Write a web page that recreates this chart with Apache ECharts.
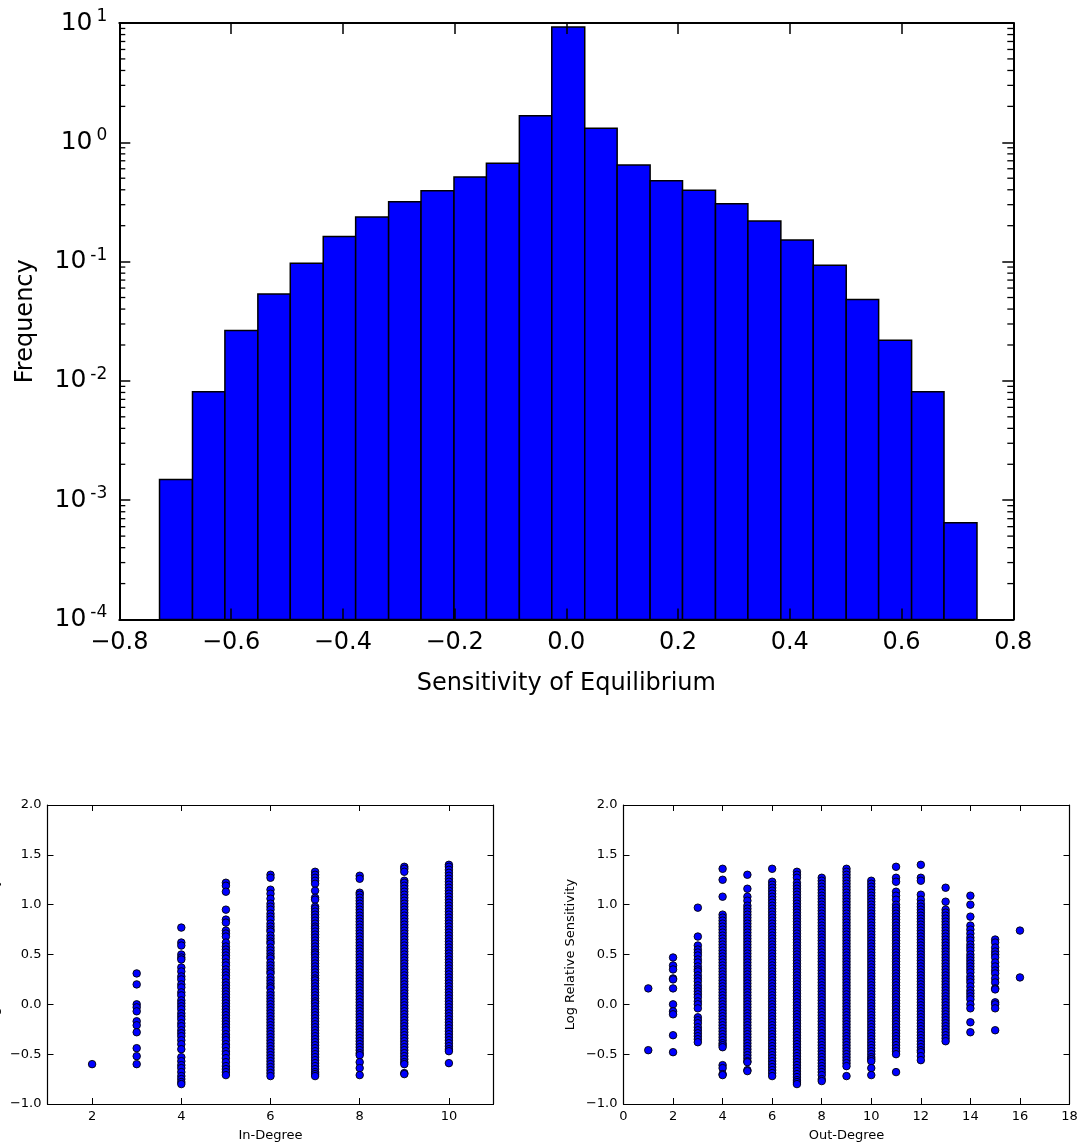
<!DOCTYPE html>
<html>
<head>
<meta charset="utf-8">
<script src="https://cdn.jsdelivr.net/npm/echarts@6/dist/echarts.min.js"></script>
<style>html,body{margin:0;padding:0;background:#fff}#c{width:1080px;height:1146px}</style>
</head>
<body>
<div id="c"></div>
<script>
// ---------- Histogram data ----------
const binEdges = [-0.728, -0.669, -0.611, -0.552, -0.494, -0.435, -0.377, -0.318, -0.260, -0.201, -0.143, -0.084, -0.026,
  0.033, 0.091, 0.150, 0.208, 0.267, 0.325, 0.384, 0.442, 0.501, 0.559, 0.618, 0.676, 0.735];
const frequency = [0.00149, 0.0081, 0.0264, 0.0536, 0.0968, 0.162, 0.236, 0.318, 0.393, 0.511, 0.667, 1.67, 9.25,
  1.31, 0.646, 0.477, 0.396, 0.306, 0.219, 0.152, 0.093, 0.0481, 0.0219, 0.0081, 0.000646];
const histXTicks = [-0.8, -0.6, -0.4, -0.2, 0.0, 0.2, 0.4, 0.6, 0.8];
const histYRange = [1e-4, 10];

// ---------- In-degree scatter ----------
const inDegrees = [2, 3, 4, 5, 6, 7, 8, 9, 10];
const in2 = [-0.60];
const in3 = [0.31, 0.20, 0.00, -0.03, -0.07, -0.17, -0.21, -0.28, -0.44, -0.52, -0.60];
const in4 = [0.77, 0.62, 0.59, 0.50, 0.47, 0.45, 0.37, 0.33, 0.28, 0.25, 0.20, 0.17, 0.12, 0.09, 0.04, 0.01, -0.02, -0.05, -0.09,
  -0.12, -0.15, -0.19, -0.22, -0.26, -0.29, -0.32, -0.36, -0.40, -0.45, -0.53, -0.57, -0.61, -0.64, -0.68, -0.72, -0.75, -0.78, -0.80];
const in5 = [1.22, 1.19, 1.13, 0.95, 0.85, 0.82, 0.74, 0.71, 0.68, 0.62, 0.58, 0.55, 0.52, 0.49, 0.46, 0.42, 0.39, 0.35, 0.32,
  0.29, 0.26, 0.22, 0.19, 0.16, 0.13, 0.10, 0.07, 0.04, 0.01, -0.02, -0.05, -0.08, -0.11, -0.14, -0.17, -0.20, -0.23, -0.26,
  -0.30, -0.33, -0.36, -0.40, -0.43, -0.47, -0.50, -0.54, -0.58, -0.62, -0.65, -0.68, -0.71];
const in6 = [1.30, 1.27, 1.15, 1.11, 1.06, 1.01, 0.98, 0.95, 0.91, 0.88, 0.85, 0.81, 0.78, 0.75, 0.73, 0.69, 0.66, 0.63, 0.61,
  0.57, 0.54, 0.51, 0.48, 0.46, 0.42, 0.39, 0.36, 0.33, 0.31, 0.27, 0.24, 0.21, 0.18, 0.16, 0.12, 0.09, 0.06, 0.03, 0.00,
  -0.03, -0.06, -0.09, -0.12, -0.15, -0.18, -0.21, -0.24, -0.27, -0.30, -0.33, -0.36, -0.39, -0.42, -0.45, -0.48, -0.51,
  -0.54, -0.57, -0.60, -0.63, -0.66, -0.69, -0.72];
const in7 = [1.33, 1.30, 1.27, 1.24, 1.21, 1.14, 1.07, 1.05, 0.98, 0.96, 0.93, 0.90, 0.87, 0.84, 0.81, 0.78, 0.76, 0.73, 0.70,
  0.67, 0.64, 0.61, 0.58, 0.55, 0.52, 0.50, 0.47, 0.44, 0.41, 0.38, 0.35, 0.32, 0.29, 0.26, 0.24, 0.21, 0.18, 0.15, 0.12,
  0.09, 0.06, 0.03, 0.01, -0.02, -0.05, -0.08, -0.11, -0.14, -0.17, -0.20, -0.23, -0.26, -0.29, -0.32, -0.35, -0.38, -0.41,
  -0.44, -0.47, -0.50, -0.53, -0.56, -0.59, -0.62, -0.65, -0.68, -0.70, -0.72];
const in8 = [1.29, 1.26, 1.12, 1.10, 1.07, 1.04, 1.01, 0.98, 0.95, 0.92, 0.89, 0.86, 0.83, 0.80, 0.77, 0.74, 0.71, 0.68, 0.65,
  0.62, 0.59, 0.56, 0.53, 0.50, 0.47, 0.44, 0.41, 0.38, 0.35, 0.32, 0.29, 0.26, 0.23, 0.20, 0.17, 0.14, 0.11, 0.08, 0.05,
  0.02, -0.01, -0.04, -0.07, -0.10, -0.13, -0.16, -0.19, -0.22, -0.25, -0.28, -0.31, -0.34, -0.37, -0.40, -0.43, -0.46,
  -0.49, -0.51, -0.58, -0.64, -0.71];
const in9 = [1.38, 1.36, 1.33, 1.24, 1.22, 1.19, 1.16, 1.13, 1.10, 1.07, 1.04, 1.01, 0.98, 0.95, 0.92, 0.89, 0.86, 0.83, 0.80,
  0.77, 0.74, 0.71, 0.68, 0.65, 0.62, 0.59, 0.56, 0.53, 0.50, 0.47, 0.44, 0.41, 0.38, 0.35, 0.32, 0.29, 0.26, 0.23, 0.20,
  0.17, 0.14, 0.11, 0.08, 0.05, 0.02, -0.01, -0.04, -0.07, -0.10, -0.13, -0.16, -0.19, -0.22, -0.25, -0.28, -0.31, -0.34,
  -0.37, -0.40, -0.43, -0.46, -0.49, -0.52, -0.55, -0.58, -0.60, -0.69, -0.70];
const in10 = [1.40, 1.38, 1.35, 1.32, 1.29, 1.26, 1.23, 1.20, 1.17, 1.14, 1.11, 1.08, 1.05, 1.02, 0.99, 0.96, 0.93, 0.90, 0.87,
  0.84, 0.81, 0.78, 0.75, 0.72, 0.69, 0.66, 0.63, 0.60, 0.57, 0.54, 0.51, 0.48, 0.45, 0.42, 0.39, 0.36, 0.33, 0.30, 0.27,
  0.24, 0.21, 0.18, 0.15, 0.12, 0.09, 0.06, 0.03, 0.00, -0.03, -0.06, -0.09, -0.12, -0.15, -0.18, -0.21, -0.24, -0.27,
  -0.30, -0.33, -0.36, -0.39, -0.42, -0.45, -0.47, -0.59];
const inValues = [in2, in3, in4, in5, in6, in7, in8, in9, in10];
const inXTicks = [2, 4, 6, 8, 10];

// ---------- Out-degree scatter ----------
const outDegrees = [1, 2, 3, 4, 5, 6, 7, 8, 9, 10, 11, 12, 13, 14, 15, 16];
const out1 = [0.16, -0.46];
const out2 = [0.47, 0.39, 0.35, 0.26, 0.25, 0.16, 0.00, -0.07, -0.10, -0.31, -0.48];
const out3 = [0.97, 0.68, 0.59, 0.55, 0.52, 0.49, 0.45, 0.42, 0.38, 0.35, 0.33, 0.29, 0.26, 0.23, 0.19, 0.16, 0.13, 0.10,
  0.07, 0.03, 0.00, -0.04, -0.13, -0.16, -0.19, -0.23, -0.26, -0.29, -0.32, -0.35, -0.38];
const out4 = [1.36, 1.25, 1.08, 0.90, 0.87, 0.84, 0.81, 0.78, 0.75, 0.72, 0.69, 0.66, 0.63, 0.60, 0.57, 0.54, 0.51, 0.48,
  0.45, 0.42, 0.39, 0.36, 0.33, 0.30, 0.27, 0.24, 0.21, 0.18, 0.15, 0.12, 0.09, 0.06, 0.03, 0.00, -0.03, -0.06, -0.09,
  -0.12, -0.15, -0.18, -0.21, -0.24, -0.27, -0.30, -0.33, -0.36, -0.39, -0.41, -0.43, -0.61, -0.64, -0.70, -0.71];
const out5 = [1.30, 1.16, 1.08, 1.04, 0.99, 0.96, 0.93, 0.90, 0.87, 0.84, 0.81, 0.78, 0.75, 0.72, 0.69, 0.66, 0.63, 0.60,
  0.57, 0.54, 0.51, 0.48, 0.45, 0.42, 0.39, 0.36, 0.33, 0.30, 0.27, 0.24, 0.21, 0.18, 0.15, 0.12, 0.09, 0.06, 0.03, 0.00,
  -0.03, -0.06, -0.09, -0.12, -0.15, -0.18, -0.21, -0.24, -0.27, -0.30, -0.33, -0.36, -0.39, -0.42, -0.45, -0.48, -0.51,
  -0.54, -0.57, -0.58, -0.66, -0.67];
const out6 = [1.36, 1.23, 1.20, 1.17, 1.14, 1.11, 1.08, 1.05, 1.02, 0.99, 0.96, 0.93, 0.90, 0.87, 0.84, 0.81, 0.78, 0.75,
  0.72, 0.69, 0.66, 0.63, 0.60, 0.57, 0.54, 0.51, 0.48, 0.45, 0.42, 0.39, 0.36, 0.33, 0.30, 0.27, 0.24, 0.21, 0.18, 0.15,
  0.12, 0.09, 0.06, 0.03, 0.00, -0.03, -0.06, -0.09, -0.12, -0.15, -0.18, -0.21, -0.24, -0.27, -0.30, -0.33, -0.36, -0.39,
  -0.42, -0.45, -0.48, -0.51, -0.54, -0.57, -0.60, -0.63, -0.66, -0.69, -0.72];
const out7 = [1.33, 1.30, 1.27, 1.22, 1.19, 1.16, 1.13, 1.10, 1.07, 1.04, 1.01, 0.98, 0.95, 0.92, 0.89, 0.86, 0.83, 0.80,
  0.77, 0.74, 0.71, 0.68, 0.65, 0.62, 0.59, 0.56, 0.53, 0.50, 0.47, 0.44, 0.41, 0.38, 0.35, 0.32, 0.29, 0.26, 0.23, 0.20,
  0.17, 0.14, 0.11, 0.08, 0.05, 0.02, -0.01, -0.04, -0.07, -0.10, -0.13, -0.16, -0.19, -0.22, -0.25, -0.28, -0.31, -0.34,
  -0.37, -0.40, -0.43, -0.46, -0.49, -0.52, -0.55, -0.58, -0.61, -0.64, -0.67, -0.70, -0.73, -0.76, -0.78, -0.80];
const out8 = [1.27, 1.24, 1.21, 1.18, 1.15, 1.12, 1.09, 1.06, 1.03, 1.00, 0.97, 0.94, 0.91, 0.88, 0.85, 0.82, 0.79, 0.76,
  0.73, 0.70, 0.67, 0.64, 0.61, 0.58, 0.55, 0.52, 0.49, 0.46, 0.43, 0.40, 0.37, 0.34, 0.31, 0.28, 0.25, 0.22, 0.19, 0.16,
  0.13, 0.10, 0.07, 0.04, 0.01, -0.02, -0.05, -0.08, -0.11, -0.14, -0.17, -0.20, -0.23, -0.26, -0.29, -0.32, -0.35, -0.38,
  -0.41, -0.44, -0.47, -0.50, -0.53, -0.56, -0.59, -0.62, -0.65, -0.68, -0.71, -0.75, -0.77];
const out9 = [1.36, 1.33, 1.30, 1.27, 1.24, 1.21, 1.18, 1.15, 1.12, 1.09, 1.06, 1.03, 1.00, 0.97, 0.94, 0.91, 0.88, 0.85,
  0.82, 0.79, 0.76, 0.73, 0.70, 0.67, 0.64, 0.61, 0.58, 0.55, 0.52, 0.49, 0.46, 0.43, 0.40, 0.37, 0.34, 0.31, 0.28, 0.25,
  0.22, 0.19, 0.16, 0.13, 0.10, 0.07, 0.04, 0.01, -0.02, -0.05, -0.08, -0.11, -0.14, -0.17, -0.20, -0.23, -0.26, -0.29,
  -0.32, -0.35, -0.38, -0.41, -0.44, -0.47, -0.50, -0.53, -0.56, -0.59, -0.62, -0.72];
const out10 = [1.24, 1.21, 1.18, 1.15, 1.12, 1.09, 1.06, 1.03, 1.00, 0.97, 0.94, 0.91, 0.88, 0.85, 0.82, 0.79, 0.76, 0.73,
  0.70, 0.67, 0.64, 0.61, 0.58, 0.55, 0.52, 0.49, 0.46, 0.43, 0.40, 0.37, 0.34, 0.31, 0.28, 0.25, 0.22, 0.19, 0.16, 0.13,
  0.10, 0.07, 0.04, 0.01, -0.02, -0.05, -0.08, -0.11, -0.14, -0.17, -0.20, -0.23, -0.26, -0.29, -0.32, -0.35, -0.38, -0.41,
  -0.44, -0.47, -0.50, -0.53, -0.55, -0.57, -0.64, -0.71];
const out11 = [1.38, 1.27, 1.23, 1.13, 1.09, 1.05, 1.00, 0.97, 0.94, 0.91, 0.88, 0.85, 0.82, 0.79, 0.76, 0.73, 0.70, 0.67,
  0.64, 0.61, 0.58, 0.55, 0.52, 0.49, 0.46, 0.43, 0.40, 0.37, 0.34, 0.31, 0.28, 0.25, 0.22, 0.19, 0.16, 0.13, 0.10, 0.07,
  0.04, 0.01, -0.02, -0.05, -0.08, -0.11, -0.14, -0.17, -0.20, -0.23, -0.26, -0.29, -0.32, -0.35, -0.38, -0.41, -0.44,
  -0.47, -0.50, -0.68];
const out12 = [1.40, 1.27, 1.24, 1.10, 1.05, 1.01, 0.98, 0.95, 0.92, 0.89, 0.86, 0.83, 0.80, 0.77, 0.74, 0.71, 0.68, 0.65,
  0.62, 0.59, 0.56, 0.53, 0.50, 0.47, 0.44, 0.41, 0.38, 0.35, 0.32, 0.29, 0.26, 0.23, 0.20, 0.17, 0.14, 0.11, 0.08, 0.05,
  0.02, -0.01, -0.04, -0.07, -0.10, -0.13, -0.16, -0.19, -0.22, -0.25, -0.28, -0.31, -0.34, -0.37, -0.40, -0.43, -0.46,
  -0.48, -0.52, -0.56];
const out13 = [1.17, 1.03, 0.95, 0.92, 0.89, 0.86, 0.83, 0.80, 0.77, 0.74, 0.71, 0.68, 0.65, 0.62, 0.59, 0.56, 0.53, 0.50,
  0.47, 0.44, 0.41, 0.38, 0.35, 0.32, 0.29, 0.26, 0.23, 0.20, 0.17, 0.14, 0.11, 0.08, 0.05, 0.02, -0.01, -0.04, -0.07,
  -0.10, -0.13, -0.16, -0.19, -0.22, -0.25, -0.28, -0.31, -0.34, -0.37];
const out14 = [1.09, 1.00, 0.88, 0.79, 0.75, 0.71, 0.67, 0.64, 0.60, 0.57, 0.54, 0.50, 0.47, 0.44, 0.41, 0.38, 0.35, 0.32,
  0.28, 0.25, 0.22, 0.18, 0.14, 0.11, 0.08, 0.05, 0.00, -0.04, -0.18, -0.28];
const out15 = [0.65, 0.62, 0.57, 0.53, 0.50, 0.47, 0.42, 0.38, 0.34, 0.31, 0.26, 0.22, 0.16, 0.15, 0.02, 0.00, -0.04, -0.26];
const out16 = [0.74, 0.27];
const outValues = [out1, out2, out3, out4, out5, out6, out7, out8, out9, out10, out11, out12, out13, out14, out15, out16];

// ---------- build ----------
const FONT = 'DejaVu Sans';
const minusFmt = d => v => { const s = Number(v).toFixed(d); return s.replace('-', '\u2212'); };

function pairs(xs, ys) {
  const out = [];
  xs.forEach((x, i) => ys[i].forEach(y => out.push([x, y])));
  return out;
}
const histData = frequency.map((f, i) => [binEdges[i], binEdges[i + 1], f]);
const minorTickVals = [];
for (let e = -4; e < 1; e++) for (let m = 2; m <= 9; m++) minorTickVals.push(m * Math.pow(10, e));

const bigTick = { show: true, inside: true, length: 11, lineStyle: { color: '#000', width: 1.5 } };
const bigLine = { show: true, onZero: false, lineStyle: { color: '#000', width: 2 } };
const smallTick = { show: true, inside: true, length: 6, lineStyle: { color: '#000', width: 1 } };
const smallLine = { show: true, onZero: false, lineStyle: { color: '#000', width: 1.2 } };

const chart = echarts.init(document.getElementById('c'), null, { renderer: 'canvas' });

function xPair(grid, min, max, interval, ticks, name, nameGap) {
  const base = { type: 'value', gridIndex: grid, min: min, max: max, splitLine: { show: false }, z: 5 };
  if (interval) base.interval = interval;
  const bottom = Object.assign({}, base, {
    position: 'bottom', axisLine: smallLine, axisTick: Object.assign({}, smallTick),
    axisLabel: { color: '#000', fontFamily: FONT, fontSize: 13, margin: 6, formatter: v => String(v) },
    name: name, nameLocation: 'middle', nameGap: nameGap,
    nameTextStyle: { color: '#000', fontFamily: FONT, fontSize: 13 }
  });
  const top = Object.assign({}, base, { position: 'top', axisLine: smallLine, axisTick: Object.assign({}, smallTick), axisLabel: { show: false } });
  if (ticks) {
    bottom.axisTick.customValues = ticks; bottom.axisLabel.customValues = ticks;
    top.axisTick.customValues = ticks;
  }
  return [bottom, top];
}
function yPair(grid) {
  const base = { type: 'value', gridIndex: grid, min: -1, max: 2, interval: 0.5, splitLine: { show: false }, z: 5 };
  return [
    Object.assign({}, base, {
      position: 'left', axisLine: smallLine, axisTick: smallTick,
      axisLabel: { color: '#000', fontFamily: FONT, fontSize: 13, margin: 6, formatter: minusFmt(1) },
      name: 'Log Relative Sensitivity', nameLocation: 'middle', nameGap: 46, nameRotate: 90,
      nameTextStyle: { color: '#000', fontFamily: FONT, fontSize: 13 }
    }),
    Object.assign({}, base, { position: 'right', axisLine: smallLine, axisTick: smallTick, axisLabel: { show: false } })
  ];
}

const xLeft = xPair(1, 1, 11, null, inXTicks, 'In-Degree', 25);
const xRight = xPair(2, 0, 18, 2, null, 'Out-Degree', 25);
const yLeft = yPair(1);
const yRight = yPair(2);

const option = {
  animation: false,
  backgroundColor: '#fff',
  textStyle: { fontFamily: FONT },
  grid: [
    { left: 119.3, top: 23, width: 894, height: 596.5, containLabel: false, outerBoundsMode: 'none' },
    { left: 47.5, top: 805, width: 446, height: 299, containLabel: false, outerBoundsMode: 'none' },
    { left: 623.5, top: 805, width: 446, height: 299, containLabel: false, outerBoundsMode: 'none' }
  ],
  xAxis: [
    { type: 'value', gridIndex: 0, position: 'bottom', min: histXTicks[0], max: histXTicks[histXTicks.length - 1], interval: 0.2,
      splitLine: { show: false }, axisLine: bigLine, axisTick: bigTick, z: 5,
      axisLabel: { color: '#000', fontFamily: FONT, fontSize: 24, margin: 11, formatter: minusFmt(1) },
      name: 'Sensitivity of Equilibrium', nameLocation: 'middle', nameGap: 52,
      nameTextStyle: { color: '#000', fontFamily: FONT, fontSize: 24 } },
    { type: 'value', gridIndex: 0, position: 'top', min: histXTicks[0], max: histXTicks[histXTicks.length - 1], interval: 0.2,
      splitLine: { show: false }, axisLine: bigLine, axisTick: bigTick, axisLabel: { show: false }, z: 5 },
    xLeft[0], xLeft[1], xRight[0], xRight[1]
  ],
  yAxis: [
    { type: 'log', logBase: 10, gridIndex: 0, position: 'left', min: histYRange[0], max: histYRange[1],
      splitLine: { show: false }, axisLine: bigLine, axisTick: bigTick, z: 5,
      axisLabel: {
        margin: 12, color: '#000',
        formatter: v => { const e = Math.round(Math.log10(v)); return '{b|10}{e|' + (e < 0 ? '-' + (-e) : e) + '}'; },
        rich: {
          b: { fontFamily: FONT, fontSize: 25, color: '#000', lineHeight: 30 },
          e: { fontFamily: FONT, fontSize: 17, color: '#000', lineHeight: 17, verticalAlign: 'top', padding: [0, 0, 0, 4] }
        }
      },
      name: 'Frequency', nameLocation: 'middle', nameGap: 82, nameRotate: 90,
      nameTextStyle: { color: '#000', fontFamily: FONT, fontSize: 24 } },
    { type: 'log', logBase: 10, gridIndex: 0, position: 'right', min: histYRange[0], max: histYRange[1],
      splitLine: { show: false }, axisLine: bigLine, axisTick: bigTick, axisLabel: { show: false }, z: 5 },
    yLeft[0], yLeft[1], yRight[0], yRight[1]
  ],
  series: [
    { type: 'custom', xAxisIndex: 0, yAxisIndex: 0, z: 1, silent: true,
      encode: { x: [0, 1], y: 2 },
      data: histData,
      renderItem: (params, api) => {
        const a = api.coord([api.value(0), api.value(2)]);
        const b = api.coord([api.value(1), histYRange[0]]);
        return { type: 'rect', shape: { x: a[0], y: a[1], width: b[0] - a[0], height: b[1] - a[1] },
          style: { fill: '#0000ff', stroke: '#000', lineWidth: 1.5 } };
      } },
    { type: 'custom', xAxisIndex: 0, yAxisIndex: 0, z: 6, silent: true,
      encode: { y: 0 },
      data: minorTickVals.map(v => [v]),
      renderItem: (params, api) => {
        const l = api.coord([histXTicks[0], api.value(0)]);
        const r = api.coord([histXTicks[histXTicks.length - 1], api.value(0)]);
        const st = { stroke: '#000', lineWidth: 1.3 };
        return { type: 'group', children: [
          { type: 'line', shape: { x1: l[0], y1: l[1], x2: l[0] + 6, y2: l[1] }, style: st },
          { type: 'line', shape: { x1: r[0] - 6, y1: r[1], x2: r[0], y2: r[1] }, style: st }
        ] };
      } },
    { type: 'scatter', xAxisIndex: 2, yAxisIndex: 2, symbolSize: 7.5, silent: true,
      itemStyle: { color: '#0000ff', borderColor: '#000', borderWidth: 0.9, opacity: 1 },
      data: pairs(inDegrees, inValues) },
    { type: 'scatter', xAxisIndex: 4, yAxisIndex: 4, symbolSize: 7.5, silent: true,
      itemStyle: { color: '#0000ff', borderColor: '#000', borderWidth: 0.9, opacity: 1 },
      data: pairs(outDegrees, outValues) }
  ]
};
chart.setOption(option);
</script>
</body>
</html>
